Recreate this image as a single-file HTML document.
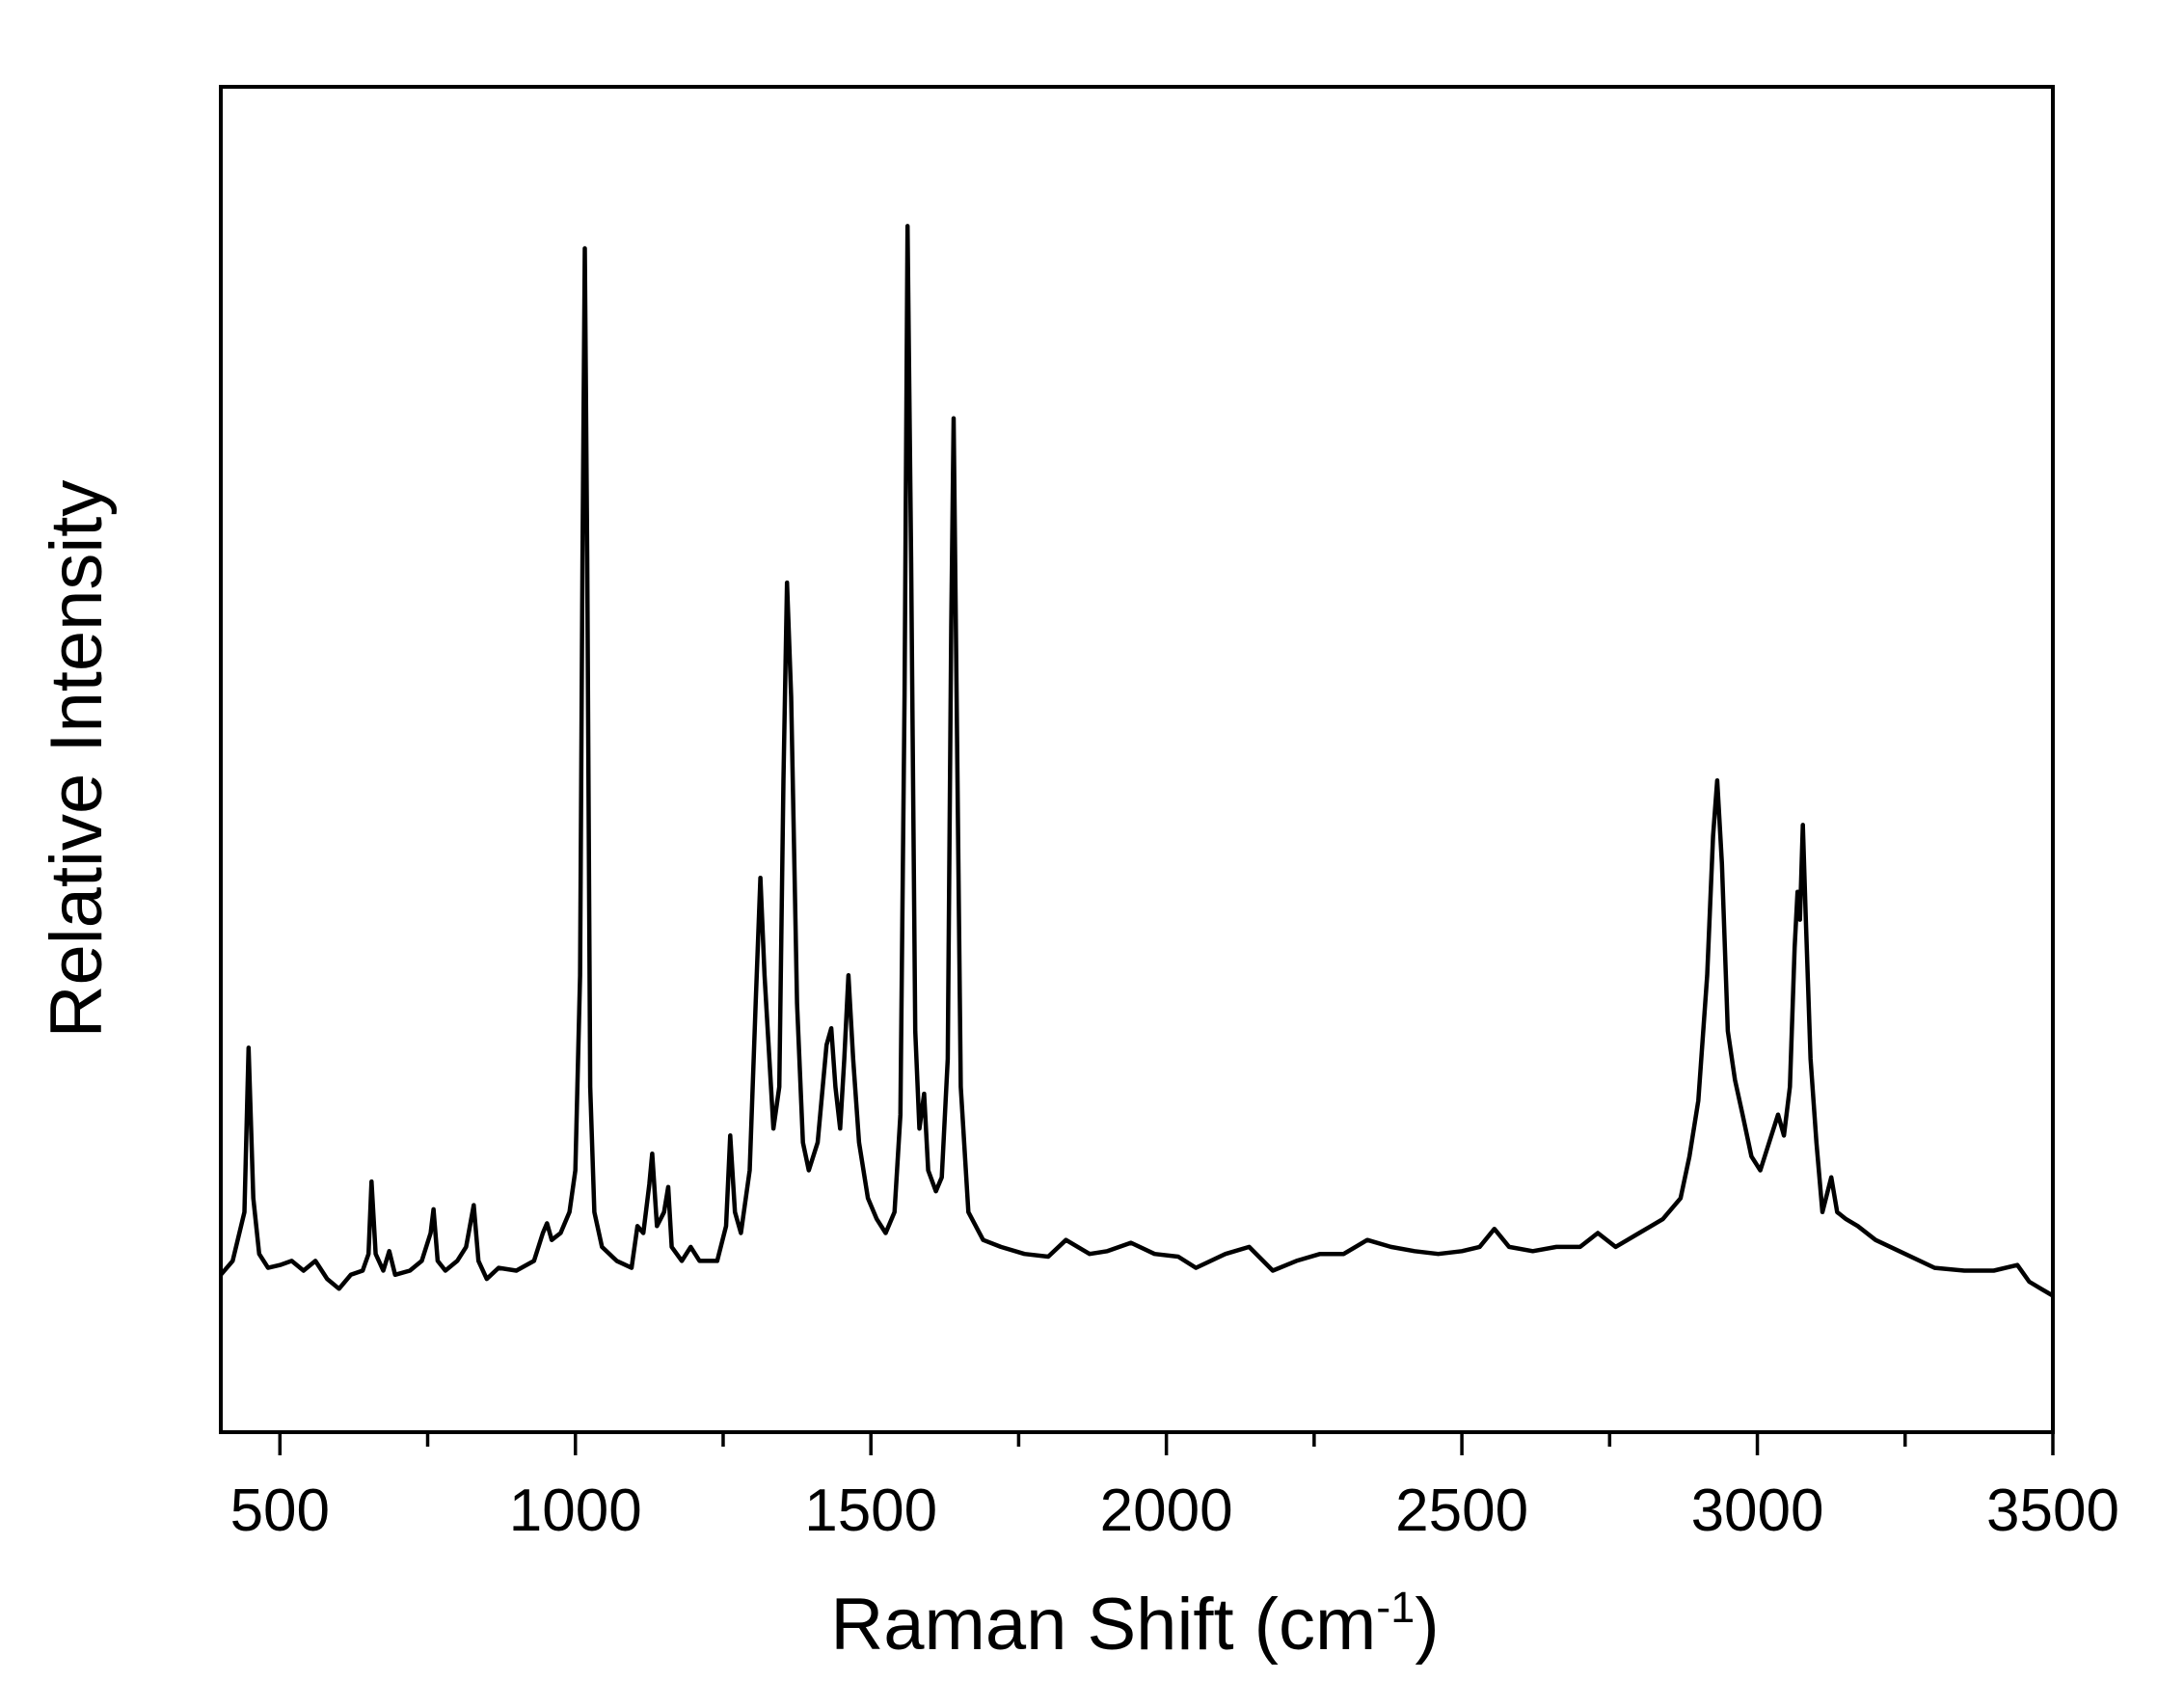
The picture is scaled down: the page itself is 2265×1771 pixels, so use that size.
<!DOCTYPE html>
<html><head><meta charset="utf-8"><style>
html,body{margin:0;padding:0;background:#fff;}
svg{display:block;font-family:"Liberation Sans",Arial,sans-serif;}
</style></head><body>
<svg id="chart" width="2265" height="1771" viewBox="0 0 2265 1771" xmlns="http://www.w3.org/2000/svg">
<rect x="0" y="0" width="2265" height="1771" fill="#fff"/>
<g id="ticks"></g>
<g id="ticklabels"></g>
<path id="spectrum" fill="none" stroke="#000" stroke-width="4.5" stroke-linejoin="round"/>
<rect x="229" y="90" width="1900" height="1395" fill="none" stroke="#000" stroke-width="4"/>
<text x="1177" y="1710" text-anchor="middle" font-size="76">Raman Shift (cm<tspan dy="-28" font-size="45">-1</tspan><tspan dy="28">)</tspan></text>
<text transform="translate(105,787) rotate(-90)" text-anchor="middle" font-size="76">Relative Intensity</text>
</svg>
<script>
const shifts=[400,420,440,447,455,465,480,500,520,540,560,580,600,620,640,650,655,662,675,685,695,720,740,755,760,767,780,800,815,828,836,850,870,900,930,945,952,960,975,990,1000,1008,1012,1016,1020,1025,1032,1045,1070,1095,1105,1115,1125,1130,1138,1150,1157,1163,1180,1195,1210,1240,1255,1262,1270,1280,1295,1305,1313,1320,1335,1345,1352,1358,1365,1375,1385,1395,1410,1425,1433,1440,1448,1455,1462,1470,1480,1495,1510,1525,1540,1550,1557,1562,1568,1575,1582,1590,1597,1610,1620,1630,1636,1640,1645,1652,1665,1690,1720,1760,1800,1830,1870,1900,1940,1980,2020,2050,2100,2140,2180,2220,2260,2300,2340,2380,2420,2460,2500,2530,2555,2580,2620,2660,2700,2730,2760,2800,2840,2870,2885,2900,2915,2925,2932,2940,2950,2962,2975,2990,3005,3020,3035,3045,3055,3063,3068,3072,3077,3082,3090,3100,3110,3125,3135,3150,3170,3200,3250,3300,3350,3400,3440,3460,3480,3500];
const intensity=[113,123,158,276,168,128,118,120,123,116,123,110,103,113,116,128,180,128,116,130,113,116,123,143,160,123,116,123,133,163,123,110,118,116,123,143,150,138,143,158,188,328,628,850,628,248,158,133,123,118,148,143,178,200,148,158,176,133,123,133,123,123,148,213,158,143,188,308,398,328,218,248,468,610,528,308,208,188,208,278,290,248,218,268,328,268,208,168,153,143,158,228,528,866,628,288,218,243,188,173,183,268,578,728,528,248,158,138,133,128,126,138,128,130,136,128,126,118,128,133,116,123,128,128,138,133,130,128,130,133,146,133,130,133,133,143,133,143,153,168,198,238,328,428,468,408,288,253,228,198,188,208,228,213,248,348,388,368,436,368,268,208,158,183,158,153,148,138,128,118,116,116,120,108,103,98];
const majorTicks=[500,1000,1500,2000,2500,3000,3500];
const tickLabels=["500","1000","1500","2000","2500","3000","3500"];
const minorTicks=[750,1250,1750,2250,2750,3250];
const X0=229,X1=2129,Y0=1485,Y1=90;
const xMin=400,xMax=3500,yMin=0,yMax=966;
const sx=v=>X0+(v-xMin)/(xMax-xMin)*(X1-X0);
const sy=v=>Y0-(v-yMin)/(yMax-yMin)*(Y0-Y1);
const NS="http://www.w3.org/2000/svg";
let d="";
shifts.forEach((s,i)=>{d+=(i?"L":"M")+sx(s).toFixed(1)+","+sy(intensity[i]).toFixed(1);});
document.getElementById("spectrum").setAttribute("d",d);
const tg=document.getElementById("ticks"),lg=document.getElementById("ticklabels");
majorTicks.forEach((t,i)=>{
  const l=document.createElementNS(NS,"line");
  l.setAttribute("x1",sx(t));l.setAttribute("x2",sx(t));l.setAttribute("y1",Y0);l.setAttribute("y2",Y0+24);
  l.setAttribute("stroke","#000");l.setAttribute("stroke-width","3.5");
  
  
  tg.appendChild(l);
  const tx=document.createElementNS(NS,"text");
  tx.setAttribute("x",sx(t));tx.setAttribute("y",1587);tx.setAttribute("text-anchor","middle");tx.setAttribute("font-size","62");
  tx.textContent=tickLabels[i];
  
  
  lg.appendChild(tx);
});
minorTicks.forEach(t=>{
  const l=document.createElementNS(NS,"line");
  l.setAttribute("x1",sx(t));l.setAttribute("x2",sx(t));l.setAttribute("y1",Y0);l.setAttribute("y2",Y0+15);
  l.setAttribute("stroke","#000");l.setAttribute("stroke-width","3.5");
  
  
  tg.appendChild(l);
});
</script>
</body></html>
